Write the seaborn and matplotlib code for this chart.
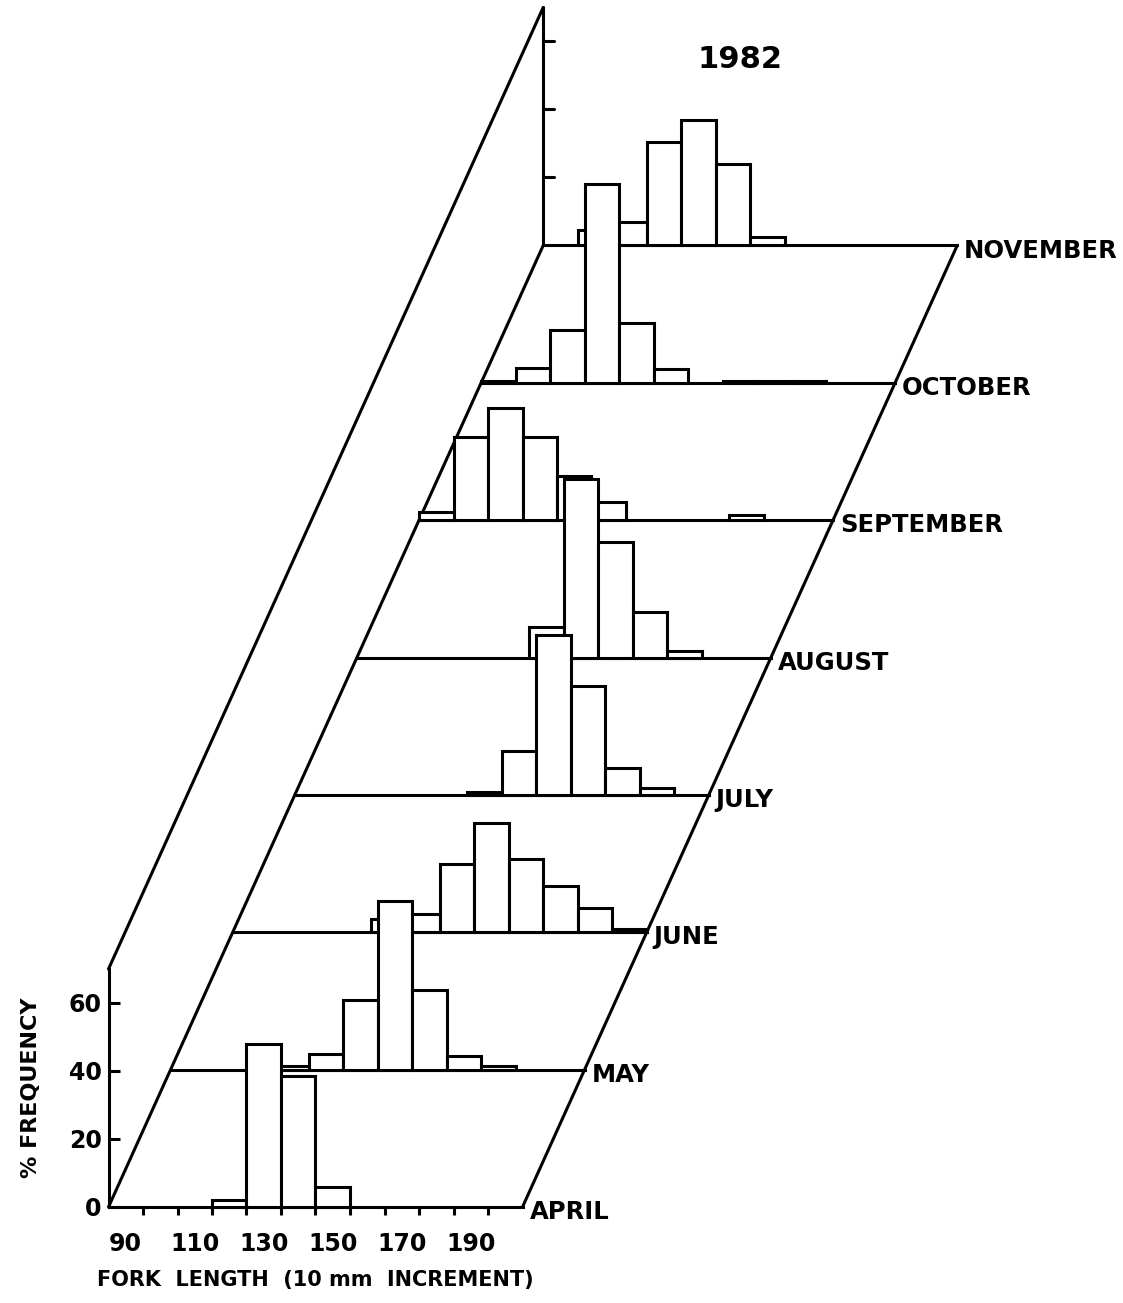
import pandas as pd
import seaborn as sns
import matplotlib.pyplot as plt

# Fork length classes (10 mm) and % frequency per month, 1982
months = ['APRIL', 'MAY', 'JUNE', 'JULY', 'AUGUST', 'SEPTEMBER', 'OCTOBER', 'NOVEMBER']
length_bins = [90, 100, 110, 120, 130, 140, 150, 160, 170, 180, 190, 200]
april = [0, 0, 0, 2, 48, 38.5, 6, 0, 0, 0, 0, 0]
may = [0, 0, 0, 1, 4.5, 20.5, 49.5, 23.5, 4, 1, 0, 0]
june = [0, 0, 0, 0, 4, 5.5, 20, 32, 21.5, 13.5, 7, 1]
july = [0, 0, 0, 0, 0, 1, 13, 47, 32, 8, 2, 0]
august = [0, 0, 0, 0, 0, 9, 52.5, 34, 13.5, 2, 0, 0]
september = [2.5, 24.5, 33, 24.5, 13, 5.5, 0, 0, 0, 1.5, 0, 0]
october = [0.5, 4.5, 15.5, 58.5, 17.5, 4, 0, 0.5, 0.5, 0.5, 0, 0]
november = [0, 4.5, 7, 30.5, 37, 24, 2.5, 0, 0, 0, 0, 0]
x_tick_labels = [90, 110, 130, 150, 170, 190]
y_ticks = [0, 20, 40, 60]

rows = []
for m, vals in zip(months, [april, may, june, july, august, september, october, november]):
    for b, v in zip(length_bins, vals):
        rows.append((m, b, v))
df = pd.DataFrame(rows, columns=['month', 'length', 'pct'])

# oblique shift from one month to the next (mm, %)
dx, dy = 18, 40.4
bw = 10
x0 = length_bins[0] - bw / 2
x1 = length_bins[-1] + bw / 2
ytop = 70
lw = 2.2

sns.set_theme(style='ticks', rc={'axes.edgecolor': 'black', 'xtick.color': 'black',
                                 'ytick.color': 'black', 'text.color': 'black',
                                 'axes.labelcolor': 'black', 'axes.linewidth': lw})
plt.rcParams['font.family'] = ['DejaVu Sans']

fig = plt.figure(figsize=(11.23, 13.03), dpi=100)
ax = fig.add_axes([108.5 / 1123, 96 / 1303, 414 / 1123, 238 / 1303])

for i, m in enumerate(months):
    sub = df[(df['month'] == m) & (df['pct'] > 0)].copy()
    sub['length'] = sub['length'] + i * dx
    z = 40 - 4 * i
    sns.barplot(data=sub, x='length', y='pct', native_scale=True, orient='x', width=1,
                errorbar=None, color='white', edgecolor='black', linewidth=lw,
                bottom=i * dy, zorder=z, clip_on=False, ax=ax)
    if i > 0:
        # baseline of this month's plane
        ax.plot([x0 + i * dx, x1 + i * dx], [i * dy, i * dy], color='black', lw=lw,
                zorder=z - 1, clip_on=False, solid_capstyle='projecting')
    ax.text(x1 + i * dx + 2, i * dy - 1.5, m, ha='left', va='center',
            fontsize=17.5, fontweight='bold')

# oblique frame lines
n = len(months) - 1
ax.plot([x0, x0 + n * dx], [0, n * dy], color='black', lw=lw, zorder=1, clip_on=False)
ax.plot([x1, x1 + n * dx], [0, n * dy], color='black', lw=lw, zorder=1, clip_on=False)
ax.plot([x0, x0 + n * dx], [ytop, ytop + n * dy], color='black', lw=lw, zorder=1, clip_on=False)
# back vertical axis with inward ticks
ax.plot([x0 + n * dx, x0 + n * dx], [n * dy, n * dy + ytop], color='black', lw=lw,
        zorder=1, clip_on=False)
for t in y_ticks[1:]:
    ax.plot([x0 + n * dx, x0 + n * dx + 3], [n * dy + t, n * dy + t], color='black',
            lw=lw, zorder=1, clip_on=False)

ax.set_xlim(x0, x1)
ax.set_ylim(0, ytop)
sns.despine(ax=ax)

ax.set_xticks(x_tick_labels)
ax.set_xticklabels([str(t) for t in x_tick_labels])
ax.set_xticks([b + bw / 2 for b in length_bins[:-1]], minor=True)
ax.tick_params(axis='x', which='major', length=0, pad=18, labelsize=17)
ax.tick_params(axis='x', which='minor', length=6, width=lw, direction='out')
ax.set_yticks(y_ticks)
ax.tick_params(axis='y', which='major', direction='in', length=8, width=lw, pad=5, labelsize=17)
plt.setp(ax.get_xticklabels() + ax.get_yticklabels(), fontweight='bold')

ax.set_xlabel('FORK  LENGTH  (10 mm  INCREMENT)', fontsize=15, fontweight='bold', labelpad=10)
ax.set_ylabel('% FREQUENCY', fontsize=16, fontweight='bold', labelpad=20)

fig.text(740 / 1123, 1 - 60 / 1303, '1982', ha='center', va='center',
         fontsize=22, fontweight='bold')

plt.savefig('out.png', dpi=100)
